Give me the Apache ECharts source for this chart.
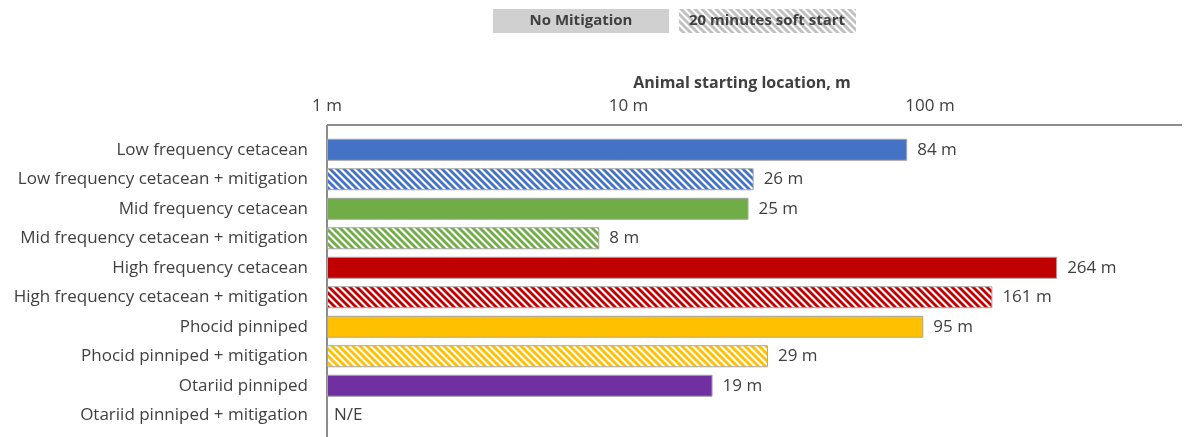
<!DOCTYPE html>
<html>
<head>
<meta charset="utf-8">
<script src="https://cdn.jsdelivr.net/npm/echarts@6/dist/echarts.min.js"></script>
<style>html,body{margin:0;padding:0;background:#fff}#c{width:1186px;height:437px}</style>
</head>
<body>
<div id="c"></div>
<script>
const categories = [
  'Low frequency cetacean',
  'Low frequency cetacean + mitigation',
  'Mid frequency cetacean',
  'Mid frequency cetacean + mitigation',
  'High frequency cetacean',
  'High frequency cetacean + mitigation',
  'Phocid pinniped',
  'Phocid pinniped + mitigation',
  'Otariid pinniped',
  'Otariid pinniped + mitigation'
];
const values = [84, 26, 25, 8, 264, 161, 95, 29, 19, null];
const missingLabel = 'N/E';
const tickValues = [1, 10, 100];
const legendNames = ['No Mitigation', '20 minutes soft start'];
const axisTitle = 'Animal starting location, m';

const groupColors = ['#4472C4', '#70AD47', '#C00000', '#FFC000', '#7030A0'];
const FONT = '"Open Sans", sans-serif';
const TXT = '#404040';

function stripes(color, s, w) {
  const c = document.createElement('canvas');
  c.width = s; c.height = s;
  const g = c.getContext('2d');
  g.fillStyle = '#fff';
  g.fillRect(0, 0, s, s);
  g.strokeStyle = color;
  g.lineWidth = w;
  for (let k = -1; k <= 1; k++) {
    g.beginPath();
    g.moveTo(-1, k * s - 1);
    g.lineTo(s + 1, k * s + s + 1);
    g.stroke();
  }
  return { image: c, repeat: 'repeat' };
}

const barData = values.map((v, i) => {
  const col = groupColors[Math.floor(i / 2)];
  const mitig = categories[i].indexOf('+ mitigation') >= 0;
  return {
    value: v == null ? '-' : v,
    itemStyle: {
      color: mitig ? stripes(col, 7, 2.8) : col,
      borderColor: '#a5a5a5',
      borderWidth: 1
    }
  };
});
const missingData = values.map(v => v == null ? tickValues[0] : '-');

const chart = echarts.init(document.getElementById('c'), null, { renderer: 'canvas' });
chart.setOption({
  animation: false,
  backgroundColor: '#fff',
  textStyle: { fontFamily: FONT },
  title: {
    text: axisTitle,
    left: 737, top: 70, textAlign: 'center',
    textStyle: { fontFamily: FONT, fontSize: 16, fontWeight: 'bold', color: TXT }
  },
  grid: { left: 327, right: 4, top: 135, height: 295, containLabel: false },
  xAxis: {
    type: 'log', logBase: 10, position: 'top',
    min: tickValues[0], max: 685,
    axisLine: { show: false }, axisTick: { show: false },
    splitLine: { show: false },
    axisLabel: {
      margin: 20, fontSize: 17, color: TXT, fontFamily: FONT,
      showMaxLabel: false,
      formatter: v => tickValues.indexOf(v) >= 0 ? v + ' m' : ''
    }
  },
  yAxis: {
    type: 'category', data: categories, inverse: true,
    axisLine: { show: false }, axisTick: { show: false },
    axisLabel: { margin: 19, fontSize: 17, color: TXT, fontFamily: FONT }
  },
  series: [
    {
      type: 'bar', data: barData, barWidth: 22,
      label: {
        show: true, position: 'right', distance: 10,
        fontSize: 17, color: TXT, fontFamily: FONT,
        formatter: p => p.value + ' m'
      }
    },
    {
      type: 'bar', data: missingData, barWidth: 22, barGap: '-100%',
      itemStyle: { color: 'transparent' },
      label: {
        show: true, position: 'right', distance: 7,
        fontSize: 17, color: TXT, fontFamily: FONT,
        formatter: () => missingLabel
      }
    }
  ],
  graphic: [
    { type: 'line', shape: { x1: 327, y1: 125, x2: 1182, y2: 125 }, style: { stroke: '#8c8c8c', lineWidth: 2 } },
    { type: 'line', shape: { x1: 327, y1: 125, x2: 327, y2: 437 }, style: { stroke: '#8c8c8c', lineWidth: 2 } },
    { type: 'rect', shape: { x: 493, y: 9, width: 176, height: 24 }, style: { fill: '#d0d0d0' } },
    { type: 'text', x: 581, y: 21, style: { text: legendNames[0], fill: TXT, font: 'bold 15px ' + FONT, textAlign: 'center', textVerticalAlign: 'middle' } },
    { type: 'rect', shape: { x: 679, y: 9, width: 177, height: 24 }, style: { fill: stripes('#c0c0c0', 7, 2.8) } },
    { type: 'text', x: 767, y: 21, style: { text: legendNames[1], fill: TXT, font: 'bold 15px ' + FONT, textAlign: 'center', textVerticalAlign: 'middle' } }
  ]
});
</script>
</body>
</html>
